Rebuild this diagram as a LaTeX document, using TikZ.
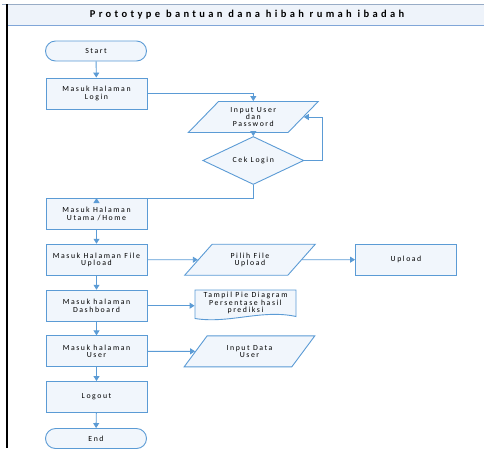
\documentclass[tikz,border=0pt]{standalone}
\usepackage{fontspec}
\setmainfont{Carlito}
\newfontfamily\lblfont[LetterSpace=20]{Carlito}
\newfontfamily\ttlfont[LetterSpace=32]{Carlito}
\usetikzlibrary{shapes.geometric,shapes.misc,arrows.meta}
\definecolor{flowblue}{RGB}{91,155,213}
\definecolor{boxfill}{RGB}{241,246,252}
\definecolor{bandfill}{RGB}{238,243,250}
\definecolor{bandtop}{RGB}{152,172,198}
\definecolor{bandline}{RGB}{128,166,216}
\begin{document}
\begin{tikzpicture}[x=1pt,y=-1pt,
  base/.style={draw=flowblue, line width=0.9pt, fill=boxfill,
    font=\lblfont\fontsize{7.8}{7.4}\selectfont, align=center, inner sep=0pt},
  proc/.style={base, rectangle, minimum width=101pt, minimum height=31pt},
  term/.style={base, rounded rectangle, minimum width=101pt, minimum height=20pt},
  io/.style={base, trapezium, trapezium left angle=45, trapezium right angle=135,
    trapezium stretches=true, minimum width=131pt, minimum height=31pt},
  decide/.style={base, diamond, minimum width=101pt, minimum height=30pt},
  doctext/.style={base, draw=none, fill=none, rectangle,
    minimum width=101pt, minimum height=26pt},
  docoutline/.style={draw=flowblue, line width=0.9pt, fill=boxfill},
  flow/.style={draw=flowblue, line width=0.9pt, -{Triangle[width=6pt,length=5pt]}}
]
\useasboundingbox (0,0) rectangle (484,448);

% lane frame and title band
\fill[bandfill] (7,5) rectangle (484,25);
\draw[bandtop, line width=1.5pt] (2,4.5) -- (484,4.5);
\draw[bandline, line width=1pt] (7,25) -- (484,25);
\draw[black, line width=2pt] (6.5,4) -- (6.5,448);
\node[font=\ttlfont\bfseries\fontsize{10.5}{12}\selectfont] (title) at (247,15)
  {Prototype bantuan dana hibah rumah ibadah};

% main column
\node[term] (start) at (96,51) {Start};
\node[proc] (login) at (96.5,93.5) {Masuk Halaman\\Login};
\node[io] (input) at (253.3,117) {Input User\\dan\\Password};
\node[decide] (cek) at (253.3,160.5) {Cek Login};
\node[proc] (home) at (96.5,214) {Masuk Halaman\\Utama /Home};
\node[proc] (fileup) at (96.5,259.7) {Masuk Halaman File\\Upload};
\node[io] (pilih) at (250,259.7) {Pilih File\\Upload};
\node[proc] (upload) at (406,259.7) {Upload};
\node[proc] (dash) at (96.5,305.7) {Masuk halaman\\Dashboard};

% document symbol with a wavy lower edge
\path[docoutline] (195,290) -- (296,290) -- (296,316.5)
  .. controls (262,309) and (229,324) .. (195,318.5) -- cycle;
\node[doctext] (tampil) at (245.5,303) {Tampil Pie Diagram\\Persentase hasil\\prediksi};

\node[proc] (user) at (96.5,351.3) {Masuk halaman\\User};
\node[io] (inputdata) at (249.5,351.3) {Input Data\\User};
\node[proc] (logout) at (96.5,397) {Logout};
\node[term] (end) at (96,438.5) {End};

% connectors
\draw[flow] (start) -- (login);
\draw[flow] (login.east) -| (input.north);
\draw[flow] (input) -- (cek);
\draw[flow] (cek.east) -- ++(18,0) |- (input.east);
\draw[flow] (cek.south) -- ++(0,14) -| (home.north);
\draw[flow] (home) -- (fileup);
\draw[flow] (fileup) -- (pilih);
\draw[flow] (pilih) -- (upload);
\draw[flow] (fileup) -- (dash);
\draw[flow] (dash.east) -- (tampil.west |- dash.east);
\draw[flow] (dash) -- (user);
\draw[flow] (user) -- (inputdata);
\draw[flow] (user) -- (logout);
\draw[flow] (logout) -- (end);
\end{tikzpicture}
\end{document}
